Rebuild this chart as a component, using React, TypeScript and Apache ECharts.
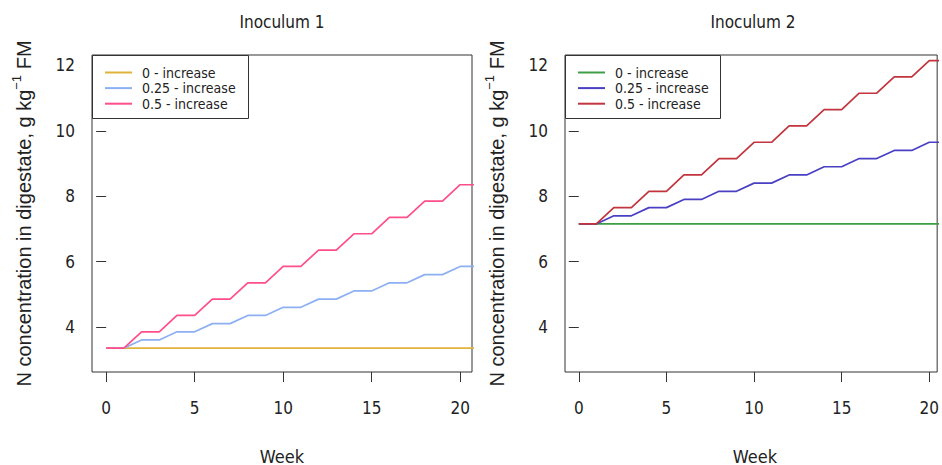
import React, { useEffect, useRef } from "react";
import * as echarts from "echarts";

// ---- data ----
const weeks = [0, 1, 2, 3, 4, 5, 6, 7, 8, 9, 10, 11, 12, 13, 14, 15, 16, 17, 18, 19, 20, 21];

// Inoculum 1
const inoc1Zero = [3.35, 3.35, 3.35, 3.35, 3.35, 3.35, 3.35, 3.35, 3.35, 3.35, 3.35, 3.35, 3.35, 3.35, 3.35, 3.35, 3.35, 3.35, 3.35, 3.35, 3.35, 3.35];
const inoc1Quarter = [3.35, 3.35, 3.6, 3.6, 3.85, 3.85, 4.1, 4.1, 4.35, 4.35, 4.6, 4.6, 4.85, 4.85, 5.1, 5.1, 5.35, 5.35, 5.6, 5.6, 5.85, 5.85];
const inoc1Half = [3.35, 3.35, 3.85, 3.85, 4.35, 4.35, 4.85, 4.85, 5.35, 5.35, 5.85, 5.85, 6.35, 6.35, 6.85, 6.85, 7.35, 7.35, 7.85, 7.85, 8.35, 8.35];

// Inoculum 2
const inoc2Zero = [7.15, 7.15, 7.15, 7.15, 7.15, 7.15, 7.15, 7.15, 7.15, 7.15, 7.15, 7.15, 7.15, 7.15, 7.15, 7.15, 7.15, 7.15, 7.15, 7.15, 7.15, 7.15];
const inoc2Quarter = [7.15, 7.15, 7.4, 7.4, 7.65, 7.65, 7.9, 7.9, 8.15, 8.15, 8.4, 8.4, 8.65, 8.65, 8.9, 8.9, 9.15, 9.15, 9.4, 9.4, 9.65, 9.65];
const inoc2Half = [7.15, 7.15, 7.65, 7.65, 8.15, 8.15, 8.65, 8.65, 9.15, 9.15, 9.65, 9.65, 10.15, 10.15, 10.65, 10.65, 11.15, 11.15, 11.65, 11.65, 12.15, 12.15];

const xTicks = [0, 5, 10, 15, 20];
const yTicks = [4, 6, 8, 10, 12];
const seriesLabels = ["0 - increase", "0.25 - increase", "0.5 - increase"];
const panelTitles = ["Inoculum 1", "Inoculum 2"];
const xTitle = "Week";

const NARROW = "'Liberation Sans Narrow', 'Arial Narrow', 'DejaVu Sans Condensed', 'Liberation Sans', sans-serif";
const SANS = "'Liberation Sans', Arial, 'DejaVu Sans', sans-serif";
const INK = "#222";
const AXIS = "#333";

const zip = (vals: number[]) => weeks.map((w, i) => [w, vals[i]]);

export default function App() {
  const ref = useRef<HTMLDivElement>(null);

  useEffect(() => {
    if (!ref.current) return;
    const chart = echarts.init(ref.current, null, { renderer: "svg" });

    const xAxis = (gridIndex: number, min: number, max: number) => ({
      type: "value",
      gridIndex,
      min,
      max,
      axisLine: { show: false },
      splitLine: { show: false },
      axisTick: { show: true, inside: false, length: 10, customValues: xTicks, lineStyle: { color: AXIS, width: 1 } },
      axisLabel: { customValues: xTicks, margin: 27, fontSize: 17, fontFamily: NARROW, color: INK },
    });

    const yAxis = (gridIndex: number) => ({
      type: "value",
      gridIndex,
      min: 2.62,
      max: 12.32,
      axisLine: { show: false },
      splitLine: { show: false },
      axisTick: { show: true, inside: false, length: 10, customValues: yTicks, lineStyle: { color: AXIS, width: 1 } },
      axisLabel: { customValues: yTicks, margin: 17, fontSize: 17, fontFamily: NARROW, color: INK },
      name: "{a|N concentration in digestate, g kg}{s|−1}{a| FM}",
      nameLocation: "middle",
      nameRotate: 90,
      nameGap: 58,
      nameTextStyle: {
        color: INK,
        rich: {
          a: { fontSize: 20, fontFamily: SANS, color: INK, lineHeight: 24, verticalAlign: "bottom" },
          s: { fontSize: 13, fontFamily: SANS, color: INK, lineHeight: 24, verticalAlign: "top" },
        },
      },
    });

    const line = (name: string, vals: number[], color: string, idx: number) => ({
      name,
      type: "line",
      xAxisIndex: idx,
      yAxisIndex: idx,
      data: zip(vals),
      symbol: "none",
      showSymbol: false,
      clip: true,
      lineStyle: { color, width: 1.7 },
      itemStyle: { color },
    });

    const labelMap: Record<string, string> = {
      L0: seriesLabels[0], L1: seriesLabels[1], L2: seriesLabels[2],
      R0: seriesLabels[0], R1: seriesLabels[1], R2: seriesLabels[2],
    };

    const legend = (left: number, data: string[]) => ({
      orient: "vertical",
      left,
      top: 65,
      padding: 0,
      icon: "rect",
      itemWidth: 27,
      itemHeight: 2,
      itemGap: 0.6,
      data,
      selectedMode: false,
      formatter: (n: string) => labelMap[n],
      textStyle: { fontSize: 14, lineHeight: 15, fontFamily: NARROW, color: INK, padding: [0, 0, 0, 5] },
      z: 10,
    });

    const option: any = {
      animation: false,
      backgroundColor: "#ffffff",
      grid: [
        { left: 92, top: 55, width: 380, height: 317, show: true, borderColor: AXIS, borderWidth: 1, backgroundColor: "transparent" },
        { left: 565, top: 55, width: 378, height: 317, show: true, borderColor: AXIS, borderWidth: 1, backgroundColor: "transparent" },
      ],
      xAxis: [xAxis(0, -0.8, 20.67), xAxis(1, -0.787, 20.45)],
      yAxis: [yAxis(0), yAxis(1)],
      legend: [legend(105, ["L0", "L1", "L2"]), legend(578, ["R0", "R1", "R2"])],
      series: [
        line("L0", inoc1Zero, "#E2B33C", 0),
        line("L1", inoc1Quarter, "#8DB0F5", 0),
        line("L2", inoc1Half, "#FF4F8B", 0),
        line("R0", inoc2Zero, "#3E9E44", 1),
        line("R1", inoc2Quarter, "#4A40C4", 1),
        line("R2", inoc2Half, "#C2353E", 1),
      ],
      graphic: [
        { type: "rect", z: 5, shape: { x: 92.5, y: 55.5, width: 156, height: 63 }, style: { fill: "#ffffff", stroke: AXIS, lineWidth: 1 } },
        { type: "rect", z: 5, shape: { x: 565.5, y: 55.5, width: 155, height: 63 }, style: { fill: "#ffffff", stroke: AXIS, lineWidth: 1 } },
        { type: "text", x: 282, y: 22, style: { text: panelTitles[0], fontSize: 17, fontFamily: NARROW, fill: INK, textAlign: "center", textVerticalAlign: "middle" } },
        { type: "text", x: 753, y: 22, style: { text: panelTitles[1], fontSize: 17, fontFamily: NARROW, fill: INK, textAlign: "center", textVerticalAlign: "middle" } },
        { type: "text", x: 282, y: 456, style: { text: xTitle, fontSize: 18, fontFamily: NARROW, fill: INK, textAlign: "center", textVerticalAlign: "middle" } },
        { type: "text", x: 755, y: 456, style: { text: xTitle, fontSize: 18, fontFamily: NARROW, fill: INK, textAlign: "center", textVerticalAlign: "middle" } },
      ],
    };

    chart.setOption(option);
    return () => chart.dispose();
  }, []);

  return (
    <div
      ref={ref}
      style={{ position: "fixed", left: 0, top: 0, width: 942, height: 465, background: "#fff" }}
    />
  );
}
